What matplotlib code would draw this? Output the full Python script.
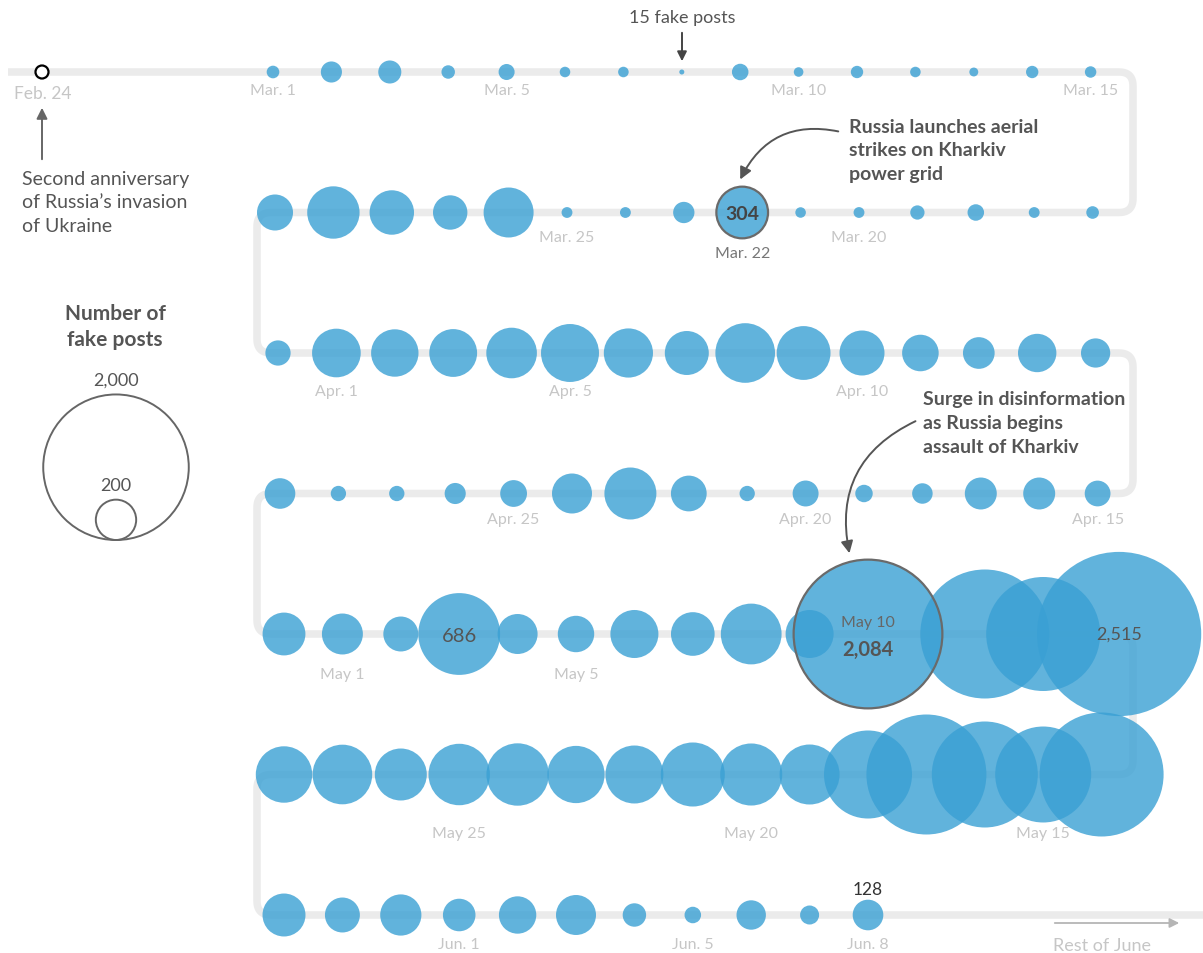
import numpy as np
import pandas as pd
import matplotlib
matplotlib.use("Agg")
from matplotlib import pyplot as plt
from matplotlib.patches import Circle, FancyArrowPatch

plt.rcParams['font.family'] = ['Lato', 'DejaVu Sans']

# daily number of fake posts, Mar. 1 - Jun. 8
dates = pd.date_range("2024-03-01", "2024-06-08")
posts = [
    # Mar. 1 - 15
    37, 73, 83, 40, 50, 30, 30, 15, 52, 27, 36, 30, 25, 36, 33,
    # Mar. 16 - 30
    37, 31, 52, 43, 31, 30, 304, 74, 31, 31, 287, 154, 235, 311, 166,
    # Mar. 31 - Apr. 14
    95, 274, 262, 266, 293, 371, 279, 231, 390, 326, 240, 170, 135, 184, 119,
    # Apr. 15 - 29
    98, 137, 137, 70, 56, 99, 47, 164, 307, 197, 104, 73, 47, 47, 128,
    # Apr. 30 - May 13
    221, 205, 158, 686, 197, 169, 268, 228, 403, 268, 2084, 1593, 1264, 2515,
    # May 14 - 28
    1479, 919, 1104, 1391, 784, 394, 418, 442, 371, 363, 422, 411, 307, 390, 354,
    # May 29 - Jun. 8
    222, 158, 207, 141, 176, 197, 85, 52, 120, 63, 128,
]
row_lengths = [15, 15, 15, 15, 14, 15, 11]

date_labels = {
    "2024-03-01": "Mar. 1", "2024-03-05": "Mar. 5", "2024-03-10": "Mar. 10",
    "2024-03-15": "Mar. 15", "2024-03-20": "Mar. 20", "2024-03-25": "Mar. 25",
    "2024-04-01": "Apr. 1", "2024-04-05": "Apr. 5", "2024-04-10": "Apr. 10",
    "2024-04-15": "Apr. 15", "2024-04-20": "Apr. 20", "2024-04-25": "Apr. 25",
    "2024-05-01": "May 1", "2024-05-05": "May 5", "2024-05-15": "May 15",
    "2024-05-20": "May 20", "2024-05-25": "May 25",
    "2024-06-01": "Jun. 1", "2024-06-05": "Jun. 5", "2024-06-08": "Jun. 8",
}
legend_values = [2000, 200]

# layout (pixels)
row_x0 = [273, 275, 278, 280, 284, 284, 284]
DX = 58.4
Y0, DY = 73, 140.5
X_LEFT, X_RIGHT = 257, 1133
label_offsets = [18, 24, 38, 26, 40, 59, 29]

BLUE = "#3aa0d4"
DARK = "#555555"
LIGHT = "#c6c6c6"
TRACK = "#ebebeb"


def radius(v):
    return max(1.72 * np.sqrt(v) - 4.15, 2.0)


def rounded(pts, r=14):
    out = [np.array(pts[0], float)]
    t = np.linspace(0, 1, 12)[:, None]
    for i in range(1, len(pts) - 1):
        p0, p1, p2 = (np.array(p, float) for p in pts[i - 1:i + 2])
        a = p1 + (p0 - p1) / np.linalg.norm(p0 - p1) * r
        b = p1 + (p2 - p1) / np.linalg.norm(p2 - p1) * r
        out.extend((1 - t) ** 2 * a + 2 * (1 - t) * t * p1 + t ** 2 * b)
    out.append(np.array(pts[-1], float))
    return np.array(out)


fig = plt.figure(figsize=(12.03, 9.54), dpi=100)
ax = fig.add_axes([0, 0, 1, 1])
ax.set_xlim(0, 1203)
ax.set_ylim(954, 0)
ax.axis("off")

# snake track
rows_y = [Y0 + DY * k for k in range(7)]
pts = [(8, rows_y[0])]
for k in range(6):
    xe = X_RIGHT if k % 2 == 0 else X_LEFT
    pts += [(xe, rows_y[k]), (xe, rows_y[k + 1])]
pts.append((1203, rows_y[6]))
track = rounded(pts)
ax.plot(track[:, 0], track[:, 1], color=TRACK, lw=5.4, solid_capstyle="butt", zorder=1)

# bubbles
pos = {}
i = 0
for k, n in enumerate(row_lengths):
    slots = np.arange(n, dtype=float)
    if k == 4:
        slots[11:] += 1  # the May 10 bubble pushes the rest of the row
        slots[-1] += 0.3
    for s in slots:
        x = row_x0[k] + DX * s if k % 2 == 0 else row_x0[k] + DX * (14 - s)
        d = dates[i]
        pos[d] = (x, rows_y[k], k)
        ax.add_patch(Circle((x, rows_y[k]), radius(posts[i]), facecolor=BLUE,
                            edgecolor="none", alpha=0.8, zorder=2))
        i += 1

for key in ["2024-03-22", "2024-05-10"]:
    d = pd.Timestamp(key)
    x, y, k = pos[d]
    ax.add_patch(Circle((x, y), radius(posts[dates.get_loc(d)]), facecolor="none",
                        edgecolor="#6a6a6a", lw=1.6, zorder=3))

# date labels
for key, txt in date_labels.items():
    x, y, k = pos[pd.Timestamp(key)]
    ax.text(x, y + label_offsets[k], txt, ha="center", va="center",
            fontsize=11.5, color=LIGHT, zorder=4)

# Feb. 24 marker
ax.add_patch(Circle((42, rows_y[0]), 6.5, facecolor="white", edgecolor="black", lw=1.6, zorder=3))
ax.text(43, 94, "Feb. 24", ha="center", va="center", fontsize=12.5, color=LIGHT)
ax.add_patch(FancyArrowPatch((42, 163), (42, 106), arrowstyle="-|>", mutation_scale=16,
                             color="#666666", lw=1.4))
ax.text(22, 203, "Second anniversary\nof Russia\u2019s invasion\nof Ukraine", ha="left", va="center",
        fontsize=14, color=DARK, linespacing=1.48)

# 15 fake posts
ax.text(682, 18, "15 fake posts", ha="center", va="center", fontsize=13, color=DARK)
ax.add_patch(FancyArrowPatch((682, 31), (682, 65), arrowstyle="-|>", mutation_scale=14,
                             color="#444444", lw=1.4))

# legend
ax.text(115, 327, "Number of\nfake posts", ha="center", va="center", fontsize=15,
        fontweight="bold", color=DARK, linespacing=1.32)
base = 541
for v in legend_values:
    r = radius(v)
    ax.add_patch(Circle((116, base - r), r, facecolor="none", edgecolor="#666666", lw=1.4))
    ax.text(116, base - 2 * r - 15, f"{v:,}", ha="center", va="center", fontsize=13, color=DARK)

# annotations
ax.text(849, 151, "Russia launches aerial\nstrikes on Kharkiv\npower grid", ha="left", va="center",
        fontsize=14, fontweight="bold", color=DARK, linespacing=1.45)
ax.add_patch(FancyArrowPatch((841, 133), (739, 183), arrowstyle="-|>", mutation_scale=18,
                             color="#555555", lw=1.4, connectionstyle="arc3,rad=0.4"))
x, y, _ = pos[pd.Timestamp("2024-03-22")]
ax.text(x, y + 1, "304", ha="center", va="center", fontsize=14, fontweight="bold", color="#444444", zorder=5)
ax.text(x, y + 40, "Mar. 22", ha="center", va="center", fontsize=11.5, color="#777777")

ax.text(923, 424, "Surge in disinformation\nas Russia begins\nassault of Kharkiv", ha="left", va="center",
        fontsize=14, fontweight="bold", color=DARK, linespacing=1.5)
ax.add_patch(FancyArrowPatch((918, 421), (850, 557), arrowstyle="-|>", mutation_scale=18,
                             color="#555555", lw=1.4, connectionstyle="arc3,rad=0.4"))

x, y, _ = pos[pd.Timestamp("2024-05-03")]
ax.text(x, y + 2, "686", ha="center", va="center", fontsize=14.5, color=DARK, zorder=5)
x, y, _ = pos[pd.Timestamp("2024-05-10")]
ax.text(x, y - 12, "May 10", ha="center", va="center", fontsize=11.5, color="#666666", zorder=5)
ax.text(x, y + 15, "2,084", ha="center", va="center", fontsize=14.5, fontweight="bold", color=DARK, zorder=5)
x, y, _ = pos[pd.Timestamp("2024-05-13")]
ax.text(x, y, "2,515", ha="center", va="center", fontsize=13, color=DARK, zorder=5)
x, y, _ = pos[pd.Timestamp("2024-06-08")]
ax.text(x, y - 26, "128", ha="center", va="center", fontsize=12.5, color="#333333", zorder=5)

# rest of June
ax.add_patch(FancyArrowPatch((1052, 924), (1182, 924), arrowstyle="-|>", mutation_scale=14,
                             color="#b5b5b5", lw=1.3))
ax.text(1102, 946, "Rest of June", ha="center", va="center", fontsize=13, color=LIGHT)

fig.savefig("out.png", dpi=100)
